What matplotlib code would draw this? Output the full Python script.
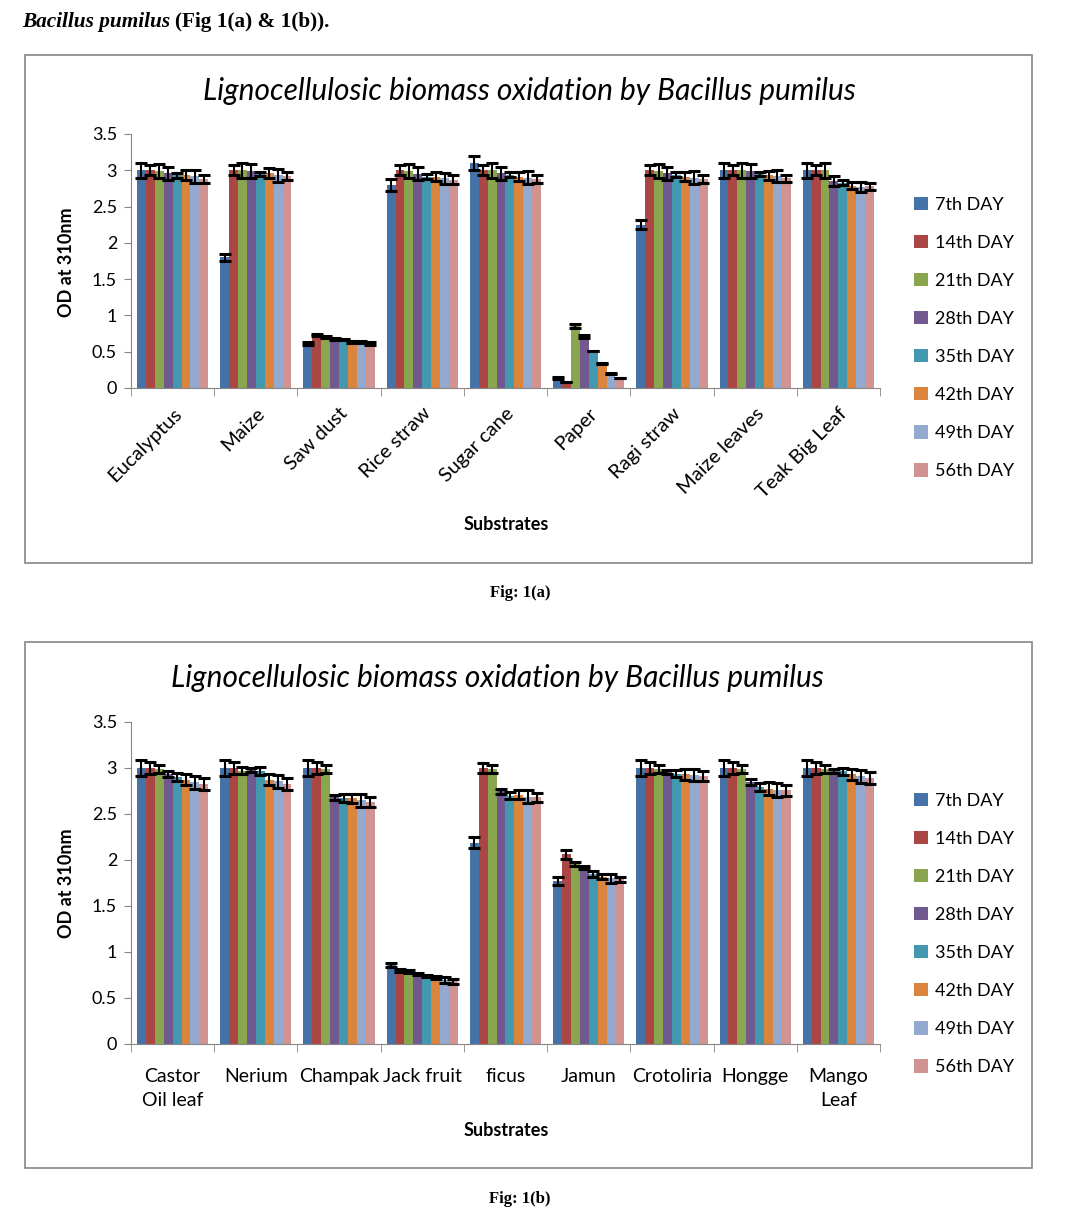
import numpy as np
import matplotlib
matplotlib.use("Agg")
import matplotlib.pyplot as plt
from matplotlib.patches import Rectangle

# 数据
days = ["7th DAY", "14th DAY", "21th DAY", "28th DAY", "35th DAY", "42th DAY", "49th DAY", "56th DAY"]
colors = ["#4572A7", "#AA4643", "#89A54E", "#71588F", "#4198AF", "#DB843D", "#93A9CF", "#D19392"]

subs_a = ["Eucalyptus", "Maize", "Saw dust", "Rice straw", "Sugar cane", "Paper", "Ragi straw", "Maize leaves", "Teak Big Leaf"]
# rows = substrate, cols = day
od_a = [
    [3.00, 3.00, 2.99, 2.96, 2.93, 2.93, 2.92, 2.88],
    [1.80, 3.00, 3.00, 2.99, 2.95, 2.96, 2.93, 2.92],
    [0.61, 0.73, 0.70, 0.68, 0.67, 0.63, 0.63, 0.61],
    [2.80, 3.00, 2.99, 2.95, 2.91, 2.91, 2.89, 2.87],
    [3.10, 3.00, 3.00, 2.96, 2.94, 2.91, 2.90, 2.88],
    [0.14, 0.08, 0.85, 0.71, 0.51, 0.34, 0.20, 0.14],
    [2.25, 3.00, 2.99, 2.96, 2.94, 2.91, 2.90, 2.88],
    [3.00, 3.00, 3.00, 2.99, 2.95, 2.93, 2.92, 2.89],
    [3.00, 3.00, 3.00, 2.85, 2.83, 2.79, 2.77, 2.78],
]
err_a = [
    [0.10, 0.07, 0.10, 0.09, 0.03, 0.07, 0.09, 0.05],
    [0.05, 0.07, 0.10, 0.10, 0.03, 0.065, 0.09, 0.06],
    [0.02, 0.02, 0.015, 0.015, 0.01, 0.015, 0.015, 0.02],
    [0.08, 0.07, 0.10, 0.09, 0.035, 0.06, 0.075, 0.06],
    [0.10, 0.07, 0.10, 0.09, 0.03, 0.06, 0.085, 0.05],
    [0.01, 0.0, 0.03, 0.02, 0.0, 0.01, 0.01, 0.0],
    [0.065, 0.07, 0.10, 0.09, 0.03, 0.06, 0.085, 0.05],
    [0.10, 0.07, 0.10, 0.09, 0.03, 0.06, 0.085, 0.05],
    [0.10, 0.07, 0.10, 0.07, 0.03, 0.05, 0.07, 0.05],
]

subs_b = ["Castor\nOil leaf", "Nerium", "Champak", "Jack fruit", "ficus", "Jamun", "Crotoliria", "Hongge", "Mango\nLeaf"]
od_b = [
    [3.00, 3.00, 2.99, 2.935, 2.90, 2.87, 2.845, 2.83],
    [3.00, 3.00, 2.97, 2.98, 2.97, 2.87, 2.855, 2.83],
    [3.00, 3.00, 2.99, 2.68, 2.675, 2.67, 2.65, 2.63],
    [0.86, 0.80, 0.785, 0.76, 0.74, 0.72, 0.695, 0.68],
    [2.19, 3.00, 2.99, 2.745, 2.70, 2.71, 2.69, 2.68],
    [1.77, 2.06, 1.955, 1.92, 1.85, 1.82, 1.80, 1.79],
    [3.00, 3.00, 2.99, 2.96, 2.94, 2.93, 2.92, 2.91],
    [3.00, 3.00, 2.99, 2.85, 2.79, 2.775, 2.765, 2.76],
    [3.00, 3.00, 2.99, 2.97, 2.965, 2.93, 2.91, 2.89],
]
err_b = [
    [0.087, 0.06, 0.04, 0.03, 0.045, 0.06, 0.07, 0.065],
    [0.087, 0.06, 0.04, 0.02, 0.045, 0.06, 0.07, 0.065],
    [0.087, 0.06, 0.04, 0.03, 0.04, 0.05, 0.07, 0.055],
    [0.025, 0.02, 0.015, 0.01, 0.01, 0.015, 0.03, 0.025],
    [0.058, 0.05, 0.04, 0.025, 0.04, 0.05, 0.07, 0.045],
    [0.045, 0.045, 0.02, 0.015, 0.03, 0.03, 0.045, 0.025],
    [0.087, 0.06, 0.04, 0.02, 0.035, 0.055, 0.065, 0.055],
    [0.087, 0.06, 0.04, 0.035, 0.045, 0.07, 0.075, 0.06],
    [0.087, 0.06, 0.04, 0.02, 0.04, 0.06, 0.07, 0.065],
]

yticks = [0, 0.5, 1, 1.5, 2, 2.5, 3, 3.5]
ytick_labels = ["0", "0.5", "1", "1.5", "2", "2.5", "3", "3.5"]
title = "Lignocellulosic biomass oxidation by Bacillus pumilus"

plt.rcParams['font.family'] = ['Lato', 'DejaVu Sans']
W, H = 1069, 1221
fig = plt.figure(figsize=(W / 100, H / 100), dpi=100)

def fx(px):
    return px / W

def fy(py):
    return 1 - py / H

gray = "#868686"

def draw_panel(box, ax_px, subs, od, err, title_xy, ylab_y, xlab_y, legend_top, rotate):
    # 外框
    fig.patches.append(Rectangle((fx(box[0]), fy(box[3])), fx(box[2] - box[0]), (box[3] - box[1]) / H,
                                 transform=fig.transFigure, fill=False, edgecolor=gray, linewidth=1.2))
    l, t, r, b = ax_px
    ax = fig.add_axes([fx(l), fy(b), fx(r - l), (b - t) / H])
    od = np.array(od)
    err = np.array(err)
    x = np.arange(len(subs))
    n = len(days)
    bw = 0.107
    for i in range(n):
        xs = x + (i - (n - 1) / 2) * bw
        ax.bar(xs, od[:, i], width=bw, color=colors[i], label=days[i], zorder=2)
        ax.errorbar(xs, od[:, i], yerr=err[:, i], fmt='none', ecolor='black',
                    elinewidth=1.5, capsize=4, capthick=2.2, zorder=3)
    ax.set_xlim(-0.5, len(subs) - 0.5)
    ax.set_ylim(0, 3.5)
    ax.set_yticks(yticks)
    ax.set_yticklabels(ytick_labels, fontsize=13)
    ax.set_xticks(x)
    if rotate:
        ax.set_xticklabels(subs, fontsize=14.5, rotation=45, ha='right', va='top', rotation_mode='anchor')
        ax.tick_params(axis='x', which='major', length=0, pad=12)
    else:
        ax.set_xticklabels(subs, fontsize=14, linespacing=1.55)
        ax.tick_params(axis='x', which='major', length=0, pad=17)
    ax.set_xticks(np.arange(len(subs) + 1) - 0.5, minor=True)
    ax.tick_params(axis='x', which='minor', length=6, color=gray, direction='out')
    ax.tick_params(axis='y', length=5, color=gray, direction='out', pad=5)
    for s in ['top', 'right']:
        ax.spines[s].set_visible(False)
    for s in ['left', 'bottom']:
        ax.spines[s].set_color(gray)
    fig.text(fx(title_xy[0]), fy(title_xy[1]), title, fontsize=21.5, style='italic',
             ha='center', va='center')
    fig.text(fx(67), fy(ylab_y), "OD at 310nm", fontsize=13, fontweight='bold',
             rotation=90, ha='center', va='center')
    fig.text(fx(506), fy(xlab_y), "Substrates", fontsize=13, fontweight='bold',
             ha='center', va='center')
    ax.legend(loc='upper left', bbox_to_anchor=(fx(905), fy(legend_top)),
              bbox_transform=fig.transFigure, frameon=False, fontsize=13,
              handlelength=0.75, handleheight=0.75, handletextpad=0.4,
              labelspacing=1.22, borderpad=0)
    return ax

draw_panel((25, 55, 1032, 563), (131, 134, 880, 388), subs_a, od_a, err_a,
           (529, 91), 262, 524, 188, True)
draw_panel((25, 642, 1032, 1168), (131, 722, 880, 1044), subs_b, od_b, err_b,
           (497, 678), 883, 1130, 784, False)

# 页眉文字
t1 = fig.text(fx(22), fy(22), "Bacillus pumilus", family='Liberation Serif', fontsize=15.3,
              fontweight='bold', style='italic', ha='left', va='center')
fig.canvas.draw()
bb = t1.get_window_extent()
fig.text(bb.x1 / W + fx(5), fy(22), "(Fig 1(a) & 1(b)).", family='Liberation Serif', fontsize=15.3,
         fontweight='bold', ha='left', va='center')

fig.text(fx(520), fy(593), "Fig: 1(a)", family='Liberation Serif', fontsize=12,
         fontweight='bold', ha='center', va='center')
fig.text(fx(520), fy(1199), "Fig: 1(b)", family='Liberation Serif', fontsize=12,
         fontweight='bold', ha='center', va='center')

fig.savefig("out.png", dpi=100)
